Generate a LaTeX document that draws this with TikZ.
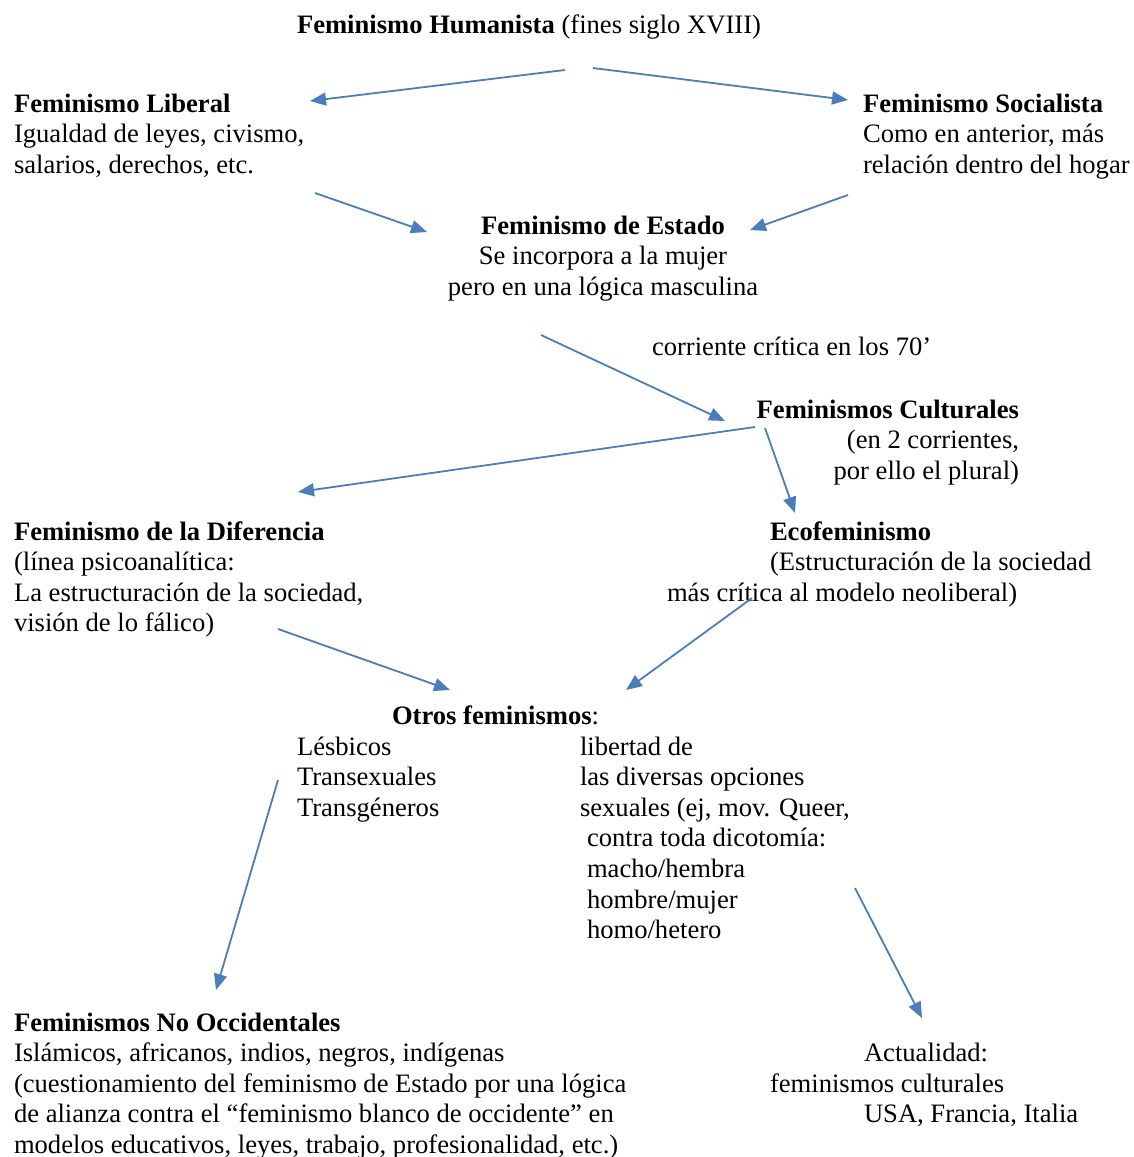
\documentclass[tikz,border=0pt]{standalone}
\usepackage{fontspec}
\setmainfont{Liberation Serif}
\usetikzlibrary{arrows.meta}
\definecolor{arrblue}{HTML}{4A7EBB}
\begin{document}
\begin{tikzpicture}[x=1pt,y=-1pt,
  txt/.style={inner sep=0pt,outer sep=0pt,anchor=north west,align=left,
    font=\fontsize{26.6}{30.6}\selectfont},
  arr/.style={draw=arrblue,line width=1.8pt,-{Triangle[length=16pt,width=13pt]}}]
\useasboundingbox (0,0) rectangle (1133,1157);

% text blocks (top = first baseline - 21.4)
\node[txt] (hum) at (297,11.6) {\strut\textbf{Feminismo Humanista} (fines siglo XVIII)};
\node[txt] (lib) at (14,90.6) {\strut\textbf{Feminismo Liberal}\\Igualdad de leyes, civismo,\\salarios, derechos, etc.};
\node[txt] (soc) at (863,90.6) {\strut\textbf{Feminismo Socialista}\\Como en anterior, más\\relación dentro del hogar};
\node[txt,anchor=north,align=center] (est) at (603,212.6) {\strut\textbf{Feminismo de Estado}\\Se incorpora a la mujer\\pero en una lógica masculina};
\node[txt] (crit) at (652,333.6) {\strut corriente crítica en los 70’};
\node[txt,anchor=north east,align=right] (cul) at (1019,396.6) {\strut\textbf{Feminismos Culturales}\\(en 2 corrientes,\\por ello el plural)};
\node[txt] (dif) at (14,518.6) {\strut\textbf{Feminismo de la Diferencia}\\(línea psicoanalítica:\\La estructuración de la sociedad,\\visión de lo fálico)};
\node[txt] (eco) at (667,518.6) {\strut\hspace*{103pt}\textbf{Ecofeminismo}\\\hspace*{103pt}(Estructuración de la sociedad\\más crítica al modelo neoliberal)};
\node[txt] (otros) at (392,702.6) {\strut\textbf{Otros feminismos}:};
\node[txt] (lgt) at (297,733.6) {\strut Lésbicos\\Transexuales\\Transgéneros};
\node[txt] (libd) at (580,733.6) {\strut libertad de\\las diversas opciones\\sexuales (ej, mov. Queer,\\\hspace*{7pt}contra toda dicotomía:\\\hspace*{7pt}macho/hembra\\\hspace*{7pt}hombre/mujer\\\hspace*{7pt}homo/hetero};
\node[txt] (noc) at (14,1009.6) {\strut\textbf{Feminismos No Occidentales}\\Islámicos, africanos, indios, negros, indígenas\\(cuestionamiento del feminismo de Estado por una lógica\\de alianza contra el “feminismo blanco de occidente” en\\modelos educativos, leyes, trabajo, profesionalidad, etc.)};
\node[txt] (act) at (770,1040.3) {\strut\hspace*{94pt}Actualidad:\\feminismos culturales\\\hspace*{94pt}USA, Francia, Italia};

% connector end points
\coordinate (a1s) at (565,70);  \coordinate (a1e) at (310,101);
\coordinate (a2s) at (593,68);  \coordinate (a2e) at (848,100);
\coordinate (a3s) at (315,193); \coordinate (a3e) at (427,232);
\coordinate (a4s) at (848,195); \coordinate (a4e) at (750,230);
\coordinate (a5s) at (541,335); \coordinate (a5e) at (725,421);
\coordinate (a6s) at (755,427); \coordinate (a6e) at (298,492);
\coordinate (a7s) at (765,428); \coordinate (a7e) at (795,513);
\coordinate (a8s) at (278,629); \coordinate (a8e) at (450,690);
\coordinate (a9s) at (752,598); \coordinate (a9e) at (626,690);
\coordinate (a10s) at (278,780); \coordinate (a10e) at (216,990);
\coordinate (a11s) at (855,888); \coordinate (a11e) at (922,1018);

\draw[arr] (a1s) -- (a1e);
\draw[arr] (a2s) -- (a2e);
\draw[arr] (a3s) -- (a3e);
\draw[arr] (a4s) -- (a4e);
\draw[arr] (a5s) -- (a5e);
\draw[arr] (a6s) -- (a6e);
\draw[arr] (a7s) -- (a7e);
\draw[arr] (a8s) -- (a8e);
\draw[arr] (a9s) -- (a9e);
\draw[arr] (a10s) -- (a10e);
\draw[arr] (a11s) -- (a11e);
\end{tikzpicture}
\end{document}
